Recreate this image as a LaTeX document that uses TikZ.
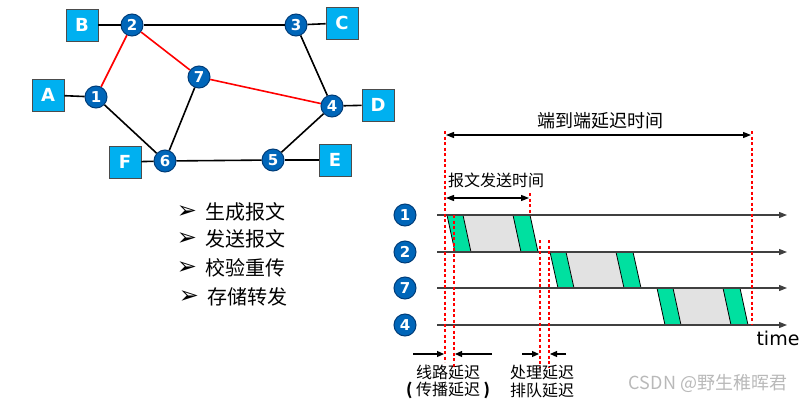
\documentclass[tikz,border=0pt]{standalone}
\usepackage{fontspec}
\setmainfont{DejaVu Sans}
\newfontfamily\cjk{Noto Sans CJK SC}
\newfontfamily\dv{DejaVu Sans}
\usetikzlibrary{arrows.meta}
\definecolor{nodeblue}{RGB}{0,102,185}
\definecolor{nodeedge}{RGB}{0,60,120}
\definecolor{boxblue}{RGB}{0,176,240}
\definecolor{pktgreen}{RGB}{0,224,160}
\definecolor{pktgray}{RGB}{226,226,226}
\definecolor{wmgray}{RGB}{185,185,185}
\begin{document}
\begin{tikzpicture}[x=1pt,y=-1pt,
  rt/.style={circle, fill=nodeblue, draw=nodeedge, line width=1pt, minimum size=22pt, inner sep=0pt, text=white, font=\dv\bfseries\fontsize{15}{15}\selectfont},
  host/.style={rectangle, fill=boxblue, draw=black!70, line width=0.8pt, minimum size=32pt, inner sep=0pt, text=white, font=\dv\bfseries\fontsize{18}{18}\selectfont},
  link/.style={line width=1.6pt, black},
  rlink/.style={line width=1.6pt, red},
  tline/.style={line width=1.2pt, black!75, -{Triangle[length=8pt,width=6pt]}},
  vdash/.style={red, line width=1.5pt, dash pattern=on 3pt off 2.5pt},
  dim/.style={black, line width=1.2pt, {Triangle[length=8pt,width=6pt]}-{Triangle[length=8pt,width=6pt]}},
  sarrow/.style={black, line width=1.2pt, -{Triangle[length=7pt,width=6pt]}},
  lbl/.style={font=\cjk\fontsize{16}{16}\selectfont, inner sep=0pt},
  blt/.style={font=\dv\fontsize{24}{24}\selectfont, inner sep=0pt},
  itm/.style={font=\cjk\fontsize{20}{20}\selectfont, inner sep=0pt, anchor=west},
  slant/.style={black, line width=0.8pt}
]
\useasboundingbox (0,0) rectangle (809,402);

% ---------- network ----------
\node[rt] (n1) at (96,97) {1};
\node[rt] (n2) at (132,25) {2};
\node[rt] (n3) at (296,25) {3};
\node[rt] (n4) at (332,106) {4};
\node[rt] (n5) at (273,160) {5};
\node[rt] (n6) at (165,161) {6};
\node[rt] (n7) at (199,77) {7};
\node[host] (A) at (48,95) {A};
\node[host] (B) at (82,25) {B};
\node[host] (C) at (342,23) {C};
\node[host] (D) at (378,105) {D};
\node[host] (E) at (335,160) {E};
\node[host] (F) at (125,162) {F};

\draw[link] (A) -- (n1);
\draw[link] (B) -- (n2);
\draw[link] (C) -- (n3);
\draw[link] (D) -- (n4);
\draw[link] (E) -- (n5);
\draw[link] (F) -- (n6);
\draw[link] (n2) -- (n3);
\draw[link] (n3) -- (n4);
\draw[link] (n4) -- (n5);
\draw[link] (n5) -- (n6);
\draw[link] (n6) -- (n1);
\draw[link] (n6) -- (n7);
\draw[rlink] (n1) -- (n2);
\draw[rlink] (n2) -- (n7);
\draw[rlink] (n7) -- (n4);

% ---------- bullet list ----------
\node[blt] (b1) at (187,212) {➢};
\node[itm] (i1) at (205,212) {生成报文};
\node[blt] (b2) at (187,239) {➢};
\node[itm] (i2) at (205,239) {发送报文};
\node[blt] (b3) at (187,268) {➢};
\node[itm] (i3) at (205,268) {校验重传};
\node[blt] (b4) at (189,297) {➢};
\node[itm] (i4) at (207,297) {存储转发};

% ---------- timing diagram ----------
\foreach \x/\ya/\yb in {447/215/252, 550/252/288, 657/288/325} {
  \fill[pktgreen] (\x,\ya) -- (\x+16,\ya) -- (\x+24,\yb) -- (\x+8,\yb) -- cycle;
  \fill[pktgray] (\x+16,\ya) -- (\x+66,\ya) -- (\x+74,\yb) -- (\x+24,\yb) -- cycle;
  \fill[pktgreen] (\x+66,\ya) -- (\x+83,\ya) -- (\x+91,\yb) -- (\x+74,\yb) -- cycle;
  \draw[slant] (\x,\ya) -- (\x+8,\yb);
  \draw[slant] (\x+16,\ya) -- (\x+24,\yb);
  \draw[slant] (\x+66,\ya) -- (\x+74,\yb);
  \draw[slant] (\x+83,\ya) -- (\x+91,\yb);
}

\node[rt] (t1) at (405,215) {1};
\node[rt] (t2) at (405,252) {2};
\node[rt] (t7) at (405,288) {7};
\node[rt] (t4) at (405,325) {4};

\coordinate (s1) at (437,215); \coordinate (e1) at (787,215);
\coordinate (s2) at (437,252); \coordinate (e2) at (787,252);
\coordinate (s3) at (437,288); \coordinate (e3) at (787,288);
\coordinate (s4) at (437,325); \coordinate (e4) at (787,325);
\draw[tline] (s1) -- (e1);
\draw[tline] (s2) -- (e2);
\draw[tline] (s3) -- (e3);
\draw[tline] (s4) -- (e4);

% red dashed verticals
\coordinate (v1a) at (445,131); \coordinate (v1b) at (445,362);
\coordinate (v2a) at (454,215); \coordinate (v2b) at (454,367);
\coordinate (v3a) at (540,240); \coordinate (v3b) at (540,367);
\coordinate (v4a) at (549,240); \coordinate (v4b) at (549,367);
\coordinate (v5a) at (752,131); \coordinate (v5b) at (752,325);
\coordinate (v6a) at (530,193); \coordinate (v6b) at (530,215);
\draw[vdash] (v1a) -- (v1b);
\draw[vdash] (v2a) -- (v2b);
\draw[vdash] (v3a) -- (v3b);
\draw[vdash] (v4a) -- (v4b);
\draw[vdash] (v5a) -- (v5b);
\draw[vdash] (v6a) -- (v6b);

% dimension arrows
\coordinate (d1a) at (446,135); \coordinate (d1b) at (751,135);
\draw[dim] (d1a) -- (d1b);
\node[lbl, font=\cjk\fontsize{18}{18}\selectfont] (ttl) at (600,121) {端到端延迟时间};
\coordinate (d2a) at (446,198); \coordinate (d2b) at (529,198);
\draw[dim] (d2a) -- (d2b);
\node[lbl, anchor=west] (snd) at (448,180) {报文发送时间};

% bottom small arrows
\coordinate (p1a) at (413,354); \coordinate (p1b) at (444,354);
\coordinate (p2a) at (492,354); \coordinate (p2b) at (455,354);
\coordinate (p3a) at (522,354); \coordinate (p3b) at (539,354);
\coordinate (p4a) at (566,354); \coordinate (p4b) at (550,354);
\draw[sarrow] (p1a) -- (p1b);
\draw[sarrow] (p2a) -- (p2b);
\draw[sarrow] (p3a) -- (p3b);
\draw[sarrow] (p4a) -- (p4b);

\node[lbl] (l1) at (448,372) {线路延迟};
\node[lbl] (l2) at (448,390) {\textbf{(} 传播延迟 \textbf{)}};
\node[lbl] (l3) at (542,372) {处理延迟};
\node[lbl] (l4) at (542,390) {排队延迟};

\node[font=\dv\fontsize{19}{19}\selectfont, inner sep=0pt] (time) at (778,338) {time};

\node[font=\cjk\fontsize{18}{18}\selectfont, text=wmgray, inner sep=0pt] (wm) at (708,383) {CSDN @野生稚晖君};
\end{tikzpicture}
\end{document}
